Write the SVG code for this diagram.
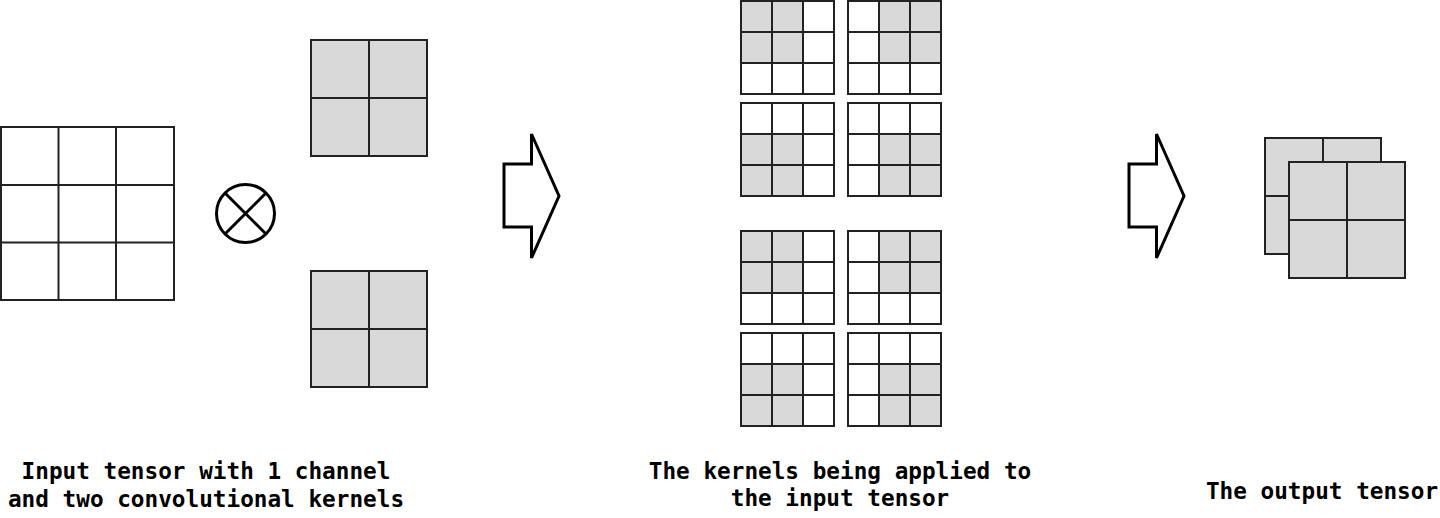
<svg xmlns="http://www.w3.org/2000/svg" width="1440" height="518" viewBox="0 0 1440 518">
<style>
.g{fill:none;stroke:#222;stroke-width:2}
.s{fill:#d9d9d9}
.w{fill:#fff}
.ar{fill:#fff;stroke:#000;stroke-width:3;stroke-linejoin:miter}
.t{font-family:"DejaVu Sans Mono","Liberation Mono",monospace;font-weight:bold;font-size:22.7px;fill:#000;text-anchor:middle}
</style>
<defs>
<g id="g3">
<rect x="0" y="0" width="93" height="93" class="g"/>
<path d="M31 0V93M62 0V93M0 31H93M0 62H93" class="g"/>
</g>
<g id="g2">
<rect x="0" y="0" width="116" height="116" class="s"/>
<rect x="0" y="0" width="116" height="116" class="g"/>
<path d="M58 0V116M0 58H116" class="g"/>
</g>
<rect id="tl" x="0" y="0" width="62" height="62" class="s"/>
<rect id="tr" x="31" y="0" width="62" height="62" class="s"/>
<rect id="bl" x="0" y="31" width="62" height="62" class="s"/>
<rect id="br" x="31" y="31" width="62" height="62" class="s"/>
</defs>
<rect width="1440" height="518" fill="#fff"/>
<g id="input">
<rect x="1" y="127" width="173" height="173" class="g"/>
<path d="M58.5 127V300M116 127V300M1 185H174M1 242.5H174" class="g"/>
</g>
<g id="conv-op">
<circle cx="245.5" cy="213.5" r="29" fill="#fff" stroke="#000" stroke-width="3"/>
<path d="M225 193L266 234M266 193L225 234" stroke="#000" stroke-width="3"/>
</g>
<g id="kernel1" transform="translate(311,40)"><use href="#g2"/></g>
<g id="kernel2" transform="translate(311,271)"><use href="#g2"/></g>
<g id="connectors">
<path class="ar" d="M504 164H531.5V134L559 196L531.5 258V227H504Z"/>
<path class="ar" d="M1129 164H1156.5V134L1184 196L1156.5 258V227H1129Z"/>
</g>
<g id="applied1">
<g transform="translate(741,1)"><use href="#tl"/><use href="#g3"/></g>
<g transform="translate(848,1)"><use href="#tr"/><use href="#g3"/></g>
<g transform="translate(741,103)"><use href="#bl"/><use href="#g3"/></g>
<g transform="translate(848,103)"><use href="#br"/><use href="#g3"/></g>
</g>
<g id="applied2">
<g transform="translate(741,231)"><use href="#tl"/><use href="#g3"/></g>
<g transform="translate(848,231)"><use href="#tr"/><use href="#g3"/></g>
<g transform="translate(741,333)"><use href="#bl"/><use href="#g3"/></g>
<g transform="translate(848,333)"><use href="#br"/><use href="#g3"/></g>
</g>
<g id="output">
<g transform="translate(1265,138)"><use href="#g2"/></g>
<g transform="translate(1289,162)"><use href="#g2"/></g>
</g>
<g id="labels">
<text class="t" x="206" y="479">Input tensor with 1 channel</text>
<text class="t" x="206" y="507">and two convolutional kernels</text>
<text class="t" x="840" y="479">The kernels being applied to</text>
<text class="t" x="840" y="506">the input tensor</text>
<text class="t" x="1322" y="499">The output tensor</text>
</g>
</svg>
